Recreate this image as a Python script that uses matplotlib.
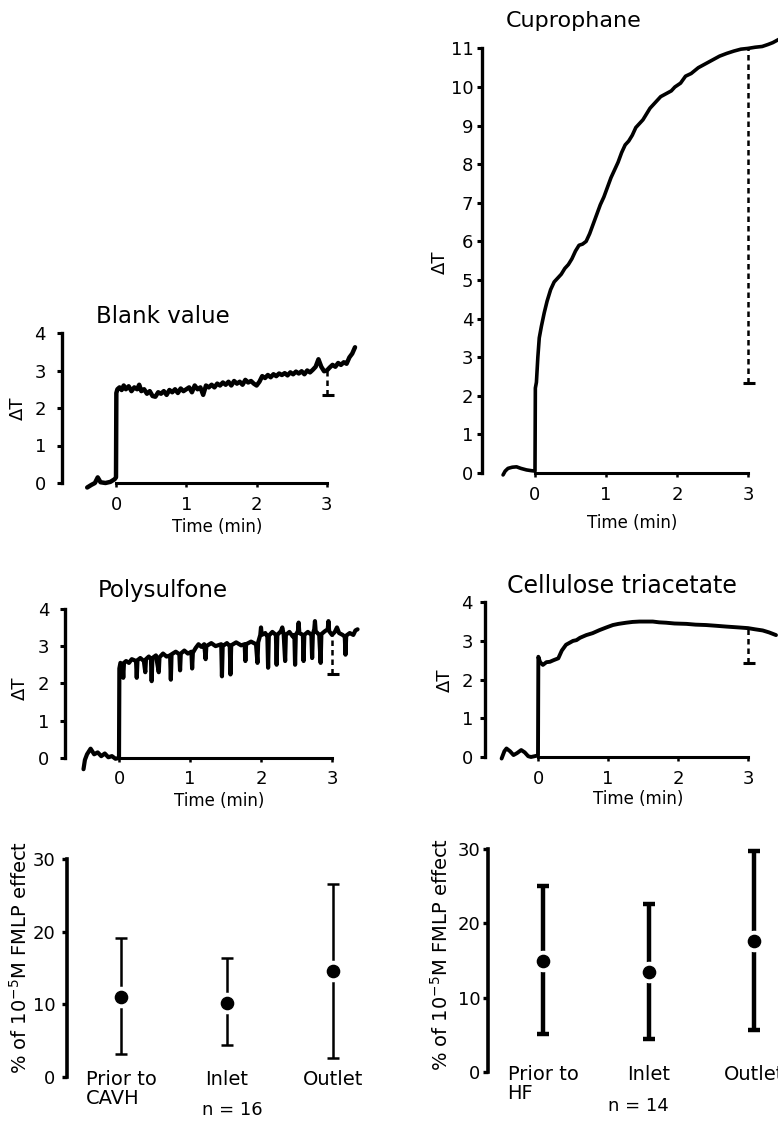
import numpy as np
import matplotlib
matplotlib.use("Agg")
import matplotlib.pyplot as plt

W, H = 778, 1128

# --- temperature traces (time in min, delta T) ---
blank_t = [-0.41, -0.35, -0.3, -0.26, -0.22, -0.15, -0.08, -0.02, 0.0,
           0.005, 0.02, 0.05, 0.08, 0.11, 0.14, 0.18, 0.22, 0.26, 0.3, 0.33,
           0.36, 0.4, 0.44, 0.48, 0.52, 0.56, 0.6, 0.64, 0.68, 0.72, 0.76,
           0.8, 0.84, 0.88, 0.92, 0.96, 1.0, 1.04, 1.08, 1.12, 1.16, 1.2,
           1.24, 1.28, 1.32, 1.36, 1.4, 1.44, 1.48, 1.52, 1.56, 1.6, 1.64,
           1.68, 1.72, 1.76, 1.8, 1.84, 1.88, 1.92, 1.96, 2.0, 2.04, 2.08,
           2.12, 2.16, 2.2, 2.24, 2.28, 2.32, 2.36, 2.4, 2.44, 2.48, 2.52,
           2.56, 2.6, 2.64, 2.68, 2.72, 2.76, 2.8, 2.84, 2.88, 2.92, 2.96,
           3.0, 3.04, 3.08, 3.12, 3.16, 3.2, 3.24, 3.28, 3.32, 3.36, 3.4]
blank_y = [-0.12, -0.05, 0.0, 0.15, 0.02, 0.0, 0.03, 0.1, 0.15,
           2.4, 2.5, 2.55, 2.48, 2.6, 2.5, 2.58, 2.45, 2.55, 2.5, 2.62,
           2.45, 2.5, 2.38, 2.45, 2.32, 2.3, 2.42, 2.38, 2.45, 2.35, 2.48,
           2.42, 2.5, 2.4, 2.52, 2.45, 2.5, 2.55, 2.42, 2.6, 2.5, 2.55,
           2.35, 2.6, 2.55, 2.62, 2.55, 2.65, 2.6, 2.68, 2.62, 2.7, 2.6,
           2.72, 2.65, 2.7, 2.62, 2.75, 2.68, 2.72, 2.65, 2.6, 2.7, 2.85,
           2.8, 2.88, 2.82, 2.9, 2.85, 2.92, 2.88, 2.93, 2.87, 2.95, 2.9,
           2.97, 2.92, 2.98, 2.9, 3.0, 2.95, 3.02, 3.1, 3.3, 3.1, 2.98,
           3.0, 3.08, 3.15, 3.1, 3.2, 3.15, 3.22, 3.18, 3.35, 3.45, 3.62]

cupro_t = [-0.45, -0.42, -0.38, -0.32, -0.26, -0.2, -0.12, -0.05, 0.0,
           0.005, 0.02, 0.04, 0.06, 0.09, 0.13, 0.17, 0.22, 0.27, 0.32,
           0.37, 0.42, 0.47, 0.52, 0.57, 0.62, 0.67, 0.72, 0.77, 0.82,
           0.87, 0.92, 0.97, 1.02, 1.07, 1.12, 1.17, 1.22, 1.27, 1.32,
           1.37, 1.42, 1.47, 1.52, 1.57, 1.62, 1.67, 1.72, 1.77, 1.82,
           1.87, 1.92, 1.97, 2.05, 2.12, 2.2, 2.3, 2.4, 2.5, 2.6, 2.7,
           2.8, 2.9, 3.0, 3.1, 3.2, 3.28, 3.35, 3.45]
cupro_y = [-0.05, 0.05, 0.12, 0.15, 0.16, 0.12, 0.08, 0.06, 0.05,
           2.2, 2.35, 3.0, 3.5, 3.8, 4.15, 4.45, 4.75, 4.95, 5.05,
           5.15, 5.3, 5.4, 5.55, 5.75, 5.9, 5.93, 6.0, 6.2, 6.45,
           6.7, 6.95, 7.15, 7.4, 7.65, 7.85, 8.05, 8.3, 8.5, 8.6,
           8.75, 8.95, 9.05, 9.15, 9.3, 9.45, 9.55, 9.65, 9.75, 9.8,
           9.85, 9.9, 10.0, 10.1, 10.28, 10.35, 10.5, 10.6, 10.7, 10.8, 10.87,
           10.93, 10.98, 11.0, 11.03, 11.05, 11.1, 11.15, 11.25]

psf_t = [-0.5, -0.48, -0.45, -0.4, -0.35, -0.3, -0.25, -0.2, -0.15, -0.1,
         -0.05, 0.0, 0.005, 0.02, 0.05, 0.06, 0.07, 0.1, 0.14, 0.18, 0.24,
         0.25, 0.26, 0.3, 0.35, 0.37, 0.38, 0.42, 0.45, 0.46, 0.47, 0.52,
         0.56, 0.57, 0.62, 0.67, 0.72, 0.73, 0.74, 0.8, 0.85, 0.86, 0.87,
         0.92, 0.97, 1.02, 1.03, 1.04, 1.08, 1.12, 1.16, 1.2, 1.22, 1.23,
         1.3, 1.36, 1.44, 1.45, 1.46, 1.52, 1.56, 1.57, 1.58, 1.65, 1.72,
         1.77, 1.78, 1.79, 1.86, 1.93, 1.95, 1.96, 1.99, 2.0, 2.01, 2.06,
         2.09, 2.1, 2.11, 2.16, 2.21, 2.22, 2.23, 2.28, 2.3, 2.32, 2.34,
         2.35, 2.4, 2.45, 2.47, 2.48, 2.49, 2.52, 2.53, 2.54, 2.59, 2.6,
         2.61, 2.66, 2.71, 2.72, 2.73, 2.75, 2.76, 2.77, 2.82, 2.84, 2.85,
         2.9, 2.94, 2.95, 2.96, 3.0, 3.04, 3.07, 3.1, 3.15, 3.18, 3.19,
         3.2, 3.25, 3.3, 3.33, 3.36]
psf_y = [-0.3, -0.05, 0.1, 0.25, 0.1, 0.15, 0.05, 0.12, 0.02, 0.05,
         -0.02, 0.0, 2.4, 2.55, 2.5, 2.15, 2.55, 2.6, 2.55, 2.65, 2.6,
         2.15, 2.62, 2.68, 2.6, 2.3, 2.65, 2.72, 2.65, 2.06, 2.68, 2.75,
         2.3, 2.7, 2.8, 2.72, 2.75, 2.1, 2.78, 2.85, 2.78, 2.35, 2.8,
         2.88, 2.8, 2.85, 2.4, 2.82, 2.95, 3.05, 2.98, 3.05, 2.65, 3.0,
         3.08, 3.0, 3.05, 2.19, 3.0, 3.08, 3.0, 2.24, 3.02, 3.1, 3.02,
         3.05, 2.6, 3.05, 3.12, 3.05, 2.55, 3.1, 3.3, 3.5, 3.3, 3.35,
         3.25, 2.42, 3.28, 3.38, 3.3, 2.5, 3.3, 3.4, 3.5, 3.3, 2.6,
         3.3, 3.38, 3.25, 3.3, 2.5, 3.3, 3.4, 3.63, 3.35, 3.3, 2.6,
         3.3, 3.38, 3.3, 2.68, 3.32, 3.45, 3.67, 3.4, 3.3, 2.55, 3.32,
         3.4, 3.45, 3.67, 3.4, 3.3, 3.38, 3.5, 3.35, 3.3, 3.25, 2.77,
         3.28, 3.35, 3.3, 3.42, 3.45]

cta_t = [-0.52, -0.48, -0.45, -0.4, -0.35, -0.3, -0.24, -0.19, -0.14, -0.1,
         -0.05, 0.0, 0.005, 0.03, 0.07, 0.12, 0.17, 0.22, 0.29, 0.34, 0.4,
         0.45, 0.5, 0.55, 0.6, 0.69, 0.78, 0.88, 0.98, 1.07, 1.15, 1.26,
         1.35, 1.45, 1.55, 1.64, 1.73, 1.83, 1.95, 2.12, 2.25, 2.4, 2.55,
         2.69, 2.85, 3.0, 3.1, 3.21, 3.3, 3.4]
cta_y = [-0.04, 0.15, 0.22, 0.15, 0.05, 0.1, 0.18, 0.12, 0.02, 0.0,
         0.02, 0.04, 2.59, 2.45, 2.38, 2.45, 2.46, 2.5, 2.55, 2.75, 2.9,
         2.95, 3.0, 3.02, 3.08, 3.15, 3.2, 3.28, 3.35, 3.41, 3.44, 3.47,
         3.49, 3.5, 3.5, 3.5, 3.48, 3.47, 3.45, 3.44, 3.42, 3.41, 3.39,
         3.37, 3.35, 3.33, 3.3, 3.27, 3.22, 3.15]

# lower end of the dashed marker at 3 min
mark_t = 3
blank_low, cupro_low, psf_low, cta_low = 2.35, 2.33, 2.25, 2.42

# --- % of 1e-5 M FMLP effect ---
cavh_labels = ["Prior to\nCAVH", "Inlet", "Outlet"]
cavh_mean = [11.0, 10.2, 14.6]
cavh_low = [3.2, 4.4, 2.6]
cavh_high = [19.1, 16.3, 26.5]

hf_labels = ["Prior to\nHF", "Inlet", "Outlet"]
hf_mean = [15.0, 13.5, 17.6]
hf_low = [5.1, 4.5, 5.6]
hf_high = [25.1, 22.6, 29.7]

plt.rcParams["font.family"] = ["DejaVu Sans"]
fig = plt.figure(figsize=(W / 100, H / 100), dpi=100)


def add_panel(x0, xs, y0, ys, xlim, ylim):
    # x0/y0 = pixel of data zero, xs/ys = pixels per data unit
    left = x0 + xlim[0] * xs
    width = (xlim[1] - xlim[0]) * xs
    top = y0 - ylim[1] * ys
    height = (ylim[1] - ylim[0]) * ys
    ax = fig.add_axes([left / W, 1 - (top + height) / H, width / W, height / H])
    ax.set_xlim(xlim)
    ax.set_ylim(ylim)
    ax.patch.set_alpha(0)
    return ax


def ftext(x, y, s, **kw):
    fig.text(x / W, 1 - y / H, s, **kw)


def trace_panel(ax, t, y, low, ymax, lw, ypad):
    ax.plot(t, y, color="black", lw=lw, solid_joinstyle="round",
            solid_capstyle="round", clip_on=False)
    top = np.interp(mark_t, t, y)
    ax.vlines(mark_t, low, top, colors="black", lw=1.8,
              linestyles=(0, (2.2, 1.6)))
    ax.plot(mark_t + 0.02, low, marker="_", ms=9, mew=2.2, color="black")
    for s in ["top", "right"]:
        ax.spines[s].set_visible(False)
    ax.spines["left"].set_bounds(0, ymax)
    ax.spines["left"].set_linewidth(2.4)
    ax.spines["bottom"].set_position(("data", 0))
    ax.spines["bottom"].set_bounds(0, 3)
    ax.spines["bottom"].set_linewidth(2.2)
    ax.set_yticks(range(ymax + 1))
    ax.set_xticks([0, 1, 2, 3])
    ax.tick_params(axis="y", length=3.5, width=2.2, pad=ypad, labelsize=13)
    ax.tick_params(axis="x", length=3, width=1.8, pad=6, labelsize=13)


# Blank value
ax1 = add_panel(116, 70.3, 483, 37.5, (-0.77, 3.5), (-0.35, 4.2))
trace_panel(ax1, blank_t, blank_y, blank_low, 4, 3.2, 8)
ftext(96, 323, "Blank value", fontsize=16.5, va="baseline")
ftext(18, 408, "ΔT", fontsize=13, rotation=90, va="center", ha="center")
ftext(217, 532, "Time (min)", fontsize=12, va="baseline", ha="center")

# Cuprophane
ax2 = add_panel(535, 71, 473, 38.6, (-0.74, 3.45), (-0.35, 11.4))
trace_panel(ax2, cupro_t, cupro_y, cupro_low, 11, 2.6, 3)
ftext(506, 27, "Cuprophane", fontsize=16, va="baseline")
ftext(440, 262, "ΔT", fontsize=13, rotation=90, va="center", ha="center")
ftext(632, 528, "Time (min)", fontsize=12, va="baseline", ha="center")

# Polysulfone
ax3 = add_panel(119, 71, 758, 37.3, (-0.76, 3.45), (-0.35, 4.2))
trace_panel(ax3, psf_t, psf_y, psf_low, 4, 3.0, 8)
ftext(98, 597, "Polysulfone", fontsize=16.5, va="baseline")
ftext(20, 688, "ΔT", fontsize=13, rotation=90, va="center", ha="center")
ftext(219, 806, "Time (min)", fontsize=12, va="baseline", ha="center")

# Cellulose triacetate
ax4 = add_panel(538, 70, 757, 38.7, (-0.76, 3.45), (-0.35, 4.2))
trace_panel(ax4, cta_t, cta_y, cta_low, 4, 2.8, 5)
ftext(507, 593, "Cellulose triacetate", fontsize=17, va="baseline")
ftext(445, 680, "ΔT", fontsize=13, rotation=90, va="center", ha="center")
ftext(638, 804, "Time (min)", fontsize=12, va="baseline", ha="center")


def effect_panel(ax, labels, mean, low, high, lw, cap, ypad, n_text, n_x):
    x = np.arange(len(mean))
    mean = np.array(mean)
    err = [mean - np.array(low), np.array(high) - mean]
    ax.errorbar(x, mean, yerr=err, fmt="none", ecolor="black",
                elinewidth=lw, capsize=cap, capthick=lw)
    ax.plot(x, mean, "o", ms=14.5, color="white", zorder=3)
    ax.plot(x, mean, "o", ms=8.8, color="black", zorder=4)
    for s in ["top", "right", "bottom"]:
        ax.spines[s].set_visible(False)
    ax.spines["left"].set_bounds(0, 30)
    ax.spines["left"].set_linewidth(2.6)
    ax.set_xticks([])
    ax.set_yticks([0, 10, 20, 30])
    ax.tick_params(axis="y", length=3.5, width=2.4, pad=ypad, labelsize=13)
    for i, lab in enumerate(labels):
        ax.text(i, 1.0, lab, fontsize=14, ha="center", va="top",
                multialignment="left", linespacing=1.0)
    ax.text(n_x, -4.6, n_text, fontsize=13, ha="center", va="center")


ylab = "% of 10$^{-5}$M FMLP effect"

ax5 = add_panel(121, 106, 1077, 7.27, (-0.51, 2.5), (-1, 31))
effect_panel(ax5, cavh_labels, cavh_mean, cavh_low, cavh_high, 1.8, 4, 5,
             "n = 16", 1.05)
ftext(20, 958, ylab, fontsize=14, rotation=90, va="center", ha="center")

ax6 = add_panel(543, 105.5, 1072, 7.43, (-0.52, 2.3), (-1, 31))
effect_panel(ax6, hf_labels, hf_mean, hf_low, hf_high, 3.2, 4.5, 2,
             "n = 14", 0.9)
ftext(441, 955, ylab, fontsize=14, rotation=90, va="center", ha="center")

fig.savefig("out.png", dpi=100)
